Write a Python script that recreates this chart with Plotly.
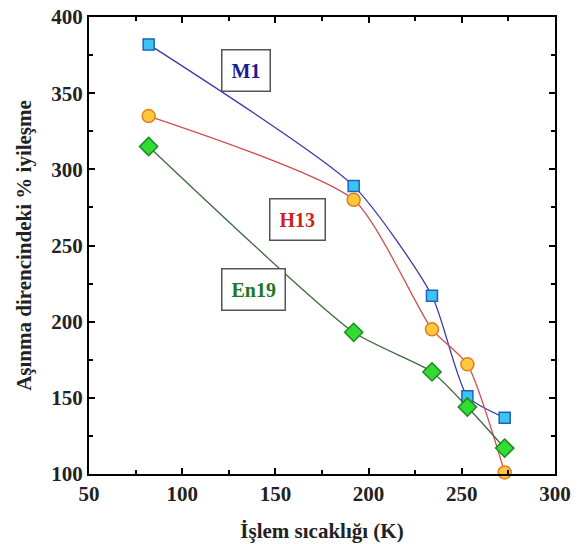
import plotly.graph_objects as go

temps = [82, 192, 234, 253, 273]
m1 = [382, 289, 217, 151, 137]
h13 = [335, 280, 195, 172, 101]
en19 = [315, 193, 167, 144, 117]

label_names = ["M1", "H13", "En19"]
label_x = [134, 162, 138.5]
label_y = [365, 267, 221]
label_colors = ["#1a1a99", "#cc2222", "#227722"]

fig = go.Figure()

series = [
    ("M1", m1, "#3a3aa8", "square", "#3cc4f0", "#2060c0", 11),
    ("H13", h13, "#d05050", "circle", "#ffc83c", "#e08020", 13),
    ("En19", en19, "#3a6a3a", "diamond", "#30dd30", "#228822", 14),
]
for name, ys, lc, sym, mc, oc, sz in series:
    fig.add_trace(go.Scatter(
        x=temps, y=ys, mode="lines+markers", name=name,
        line=dict(color=lc, width=1.3, shape="spline", smoothing=0.6),
        marker=dict(symbol=sym, size=sz, color=mc, line=dict(color=oc, width=1.5)),
        cliponaxis=False,
    ))

for t, x, y, c in zip(label_names, label_x, label_y, label_colors):
    fig.add_annotation(x=x, y=y, text=f"<b>{t}</b>", showarrow=False,
                       font=dict(family="Liberation Serif", size=20, color=c),
                       bordercolor="#555555", borderwidth=1.5, borderpad=9, bgcolor="white")

tfont = dict(family="Liberation Serif", size=21, color="#222222", weight="bold")
axis_common = dict(
    showline=True, linecolor="black", linewidth=2, mirror="ticks",
    ticks="inside", ticklen=6, tickwidth=2, tickcolor="black",
    showgrid=False, zeroline=False, automargin=False,
    tickfont=tfont,
)

fig.update_xaxes(range=[50, 300], tickvals=[50, 100, 150, 200, 250, 300],
                 minor=dict(ticks="inside", ticklen=4, tickcolor="black", dtick=25, tick0=50),
                 title=dict(text="<b>İşlem sıcaklığı (K)</b>",
                            font=dict(family="Liberation Serif", size=21, color="#222222"),
                            standoff=18),
                 **axis_common)
fig.update_yaxes(range=[100, 400], tickvals=[100, 150, 200, 250, 300, 350, 400],
                 minor=dict(ticks="inside", ticklen=4, tickcolor="black", dtick=25, tick0=100),
                 title=dict(text="<b>Aşınma direncindeki % iyileşme</b>",
                            font=dict(family="Liberation Serif", size=21, color="#222222"),
                            standoff=14),
                 **axis_common)

fig.update_layout(
    width=582, height=544,
    margin=dict(l=89, r=27, t=17, b=70),
    plot_bgcolor="white", paper_bgcolor="white",
    showlegend=False,
)

fig.write_html("out.html")
